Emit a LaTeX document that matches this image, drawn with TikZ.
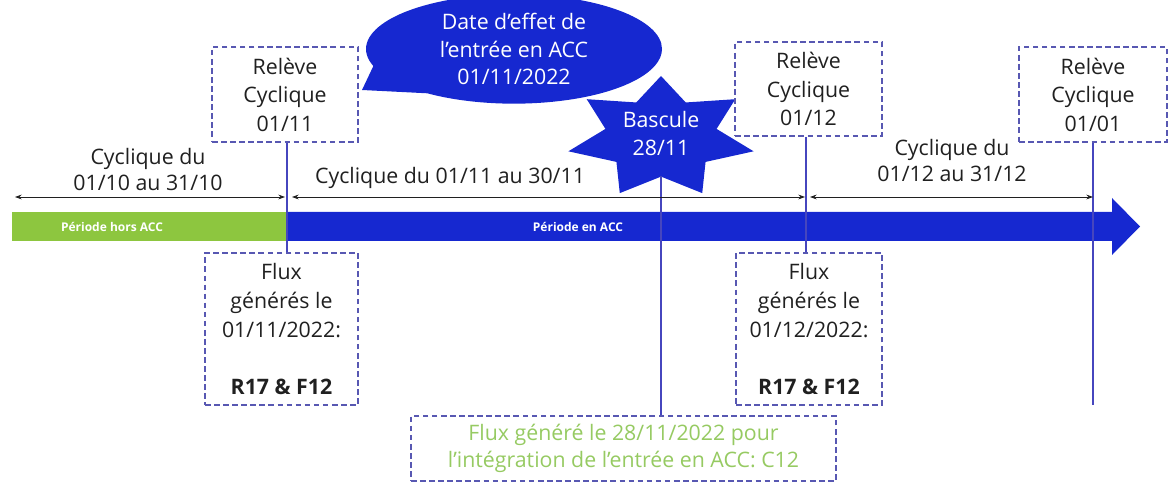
\documentclass[tikz,border=0pt]{standalone}
\usepackage{fontspec}
\setmainfont{Open Sans}
\usetikzlibrary{shapes.geometric,shapes.callouts,arrows.meta}
\definecolor{accblue}{RGB}{22,40,208}
\definecolor{accgreen}{RGB}{141,198,63}
\definecolor{lightgreen}{RGB}{150,202,98}
\definecolor{dashcol}{RGB}{88,88,178}
\definecolor{linecol}{RGB}{70,70,190}
\definecolor{txt}{RGB}{32,32,32}
\begin{document}
\begin{tikzpicture}[x=0.75pt,y=-0.75pt,
  mainfont/.style={font=\fontsize{16}{21.4}\selectfont},
  dbox/.style={draw=dashcol, line width=1.2pt, dash pattern=on 4.2pt off 2.6pt,
    inner sep=0pt, align=center, mainfont, text=txt},
  cyc/.style={align=center, font=\fontsize{16}{19.5}\selectfont, text=txt, inner sep=0pt},
  barlabel/.style={text=white, font=\fontsize{9}{10}\selectfont\bfseries, inner sep=0pt},
  vline/.style={draw=linecol, line width=1.1pt},
  cycarrow/.style={draw=txt, line width=0.6pt, {Stealth[length=5pt,width=3.6pt]}-{Stealth[length=5pt,width=3.6pt]}}
]
\useasboundingbox (0,0) rectangle (1168,495);

% bars
\fill[accgreen] (12,212) rectangle (287,241);
\fill[accblue] (287,212) -- (1112,212) -- (1112,198) -- (1140,226.5) -- (1112,255) -- (1112,241) -- (287,241) -- cycle;
\node[barlabel] (hors) at (112,226.5) {Période hors ACC};
\node[barlabel] (enacc) at (578,226.5) {Période en ACC};
\coordinate (split) at (287,226.5);

% callout ellipse
\node[ellipse callout, fill=accblue, text=white, minimum width=222pt, minimum height=82pt,
  callout absolute pointer={(362,90)}, callout pointer arc=36, align=center,
  font=\fontsize{16}{20.6}\selectfont, inner sep=0pt] (effet) at (514,49)
  {Date d’effet de\\l’entrée en ACC\\01/11/2022};

% star
\fill[accblue] (661,76) \foreach \i in {1,...,13}{
  -- ({661 + (mod(\i,2)==0 ? 95 : 57)*cos(90+\i*360/14)}, {137.6 - (mod(\i,2)==0 ? 61.6 : 39)*sin(90+\i*360/14)}) } -- cycle;
\coordinate (starbot) at (661,176);
\node[text=white, align=center, font=\fontsize{16}{21}\selectfont, inner sep=0pt] (bascule) at (661,134) {Bascule\\28/11};

% boxes
\node[dbox, minimum width=109.5pt, minimum height=71.25pt] (rel1) at (285,94.5) {Relève\\Cyclique\\01/11};
\node[dbox, minimum width=110.25pt, minimum height=70.5pt] (rel2) at (808.5,89) {Relève\\Cyclique\\01/12};
\node[dbox, minimum width=111pt, minimum height=71.25pt] (rel3) at (1093,94.5) {Relève\\Cyclique\\01/01};
\node[dbox, minimum width=114.75pt, minimum height=114pt] (flux1) at (281.5,329) {Flux\\générés le\\01/11/2022:\\[21.4pt]\textbf{R17 \& F12}};
\node[dbox, minimum width=109.5pt, minimum height=114pt] (flux2) at (809,329) {Flux\\générés le\\01/12/2022:\\[21.4pt]\textbf{R17 \& F12}};
\node[dbox, text=lightgreen, minimum width=318.75pt, minimum height=48.75pt, font=\fontsize{16}{20.3}\selectfont] (c12) at (623.5,448.5) {Flux généré le 28/11/2022 pour\\l’intégration de l’entrée en ACC: C12};
\coordinate (end3) at (1093,405);

% vertical connectors
\draw[vline] (rel1.south -| split) -- (flux1.north -| split);
\draw[vline] (rel2.south -| 806,0) -- (flux2.north -| 806,0);
\draw[vline] (rel3.south) -- (end3);
\draw[vline] (starbot) -- (c12.north -| starbot);

% cycle labels and arrows
\coordinate (a1) at (15,197);
\coordinate (a2) at (285,197);
\coordinate (b1) at (292,197);
\coordinate (b2) at (805,197);
\coordinate (d1) at (810,197);
\coordinate (d2) at (1093,197);
\draw[cycarrow] (a1) -- (a2);
\draw[cycarrow] (b1) -- (b2);
\draw[cycarrow] (d1) -- (d2);
\node[cyc] (cyc1) at (148,170) {Cyclique du\\01/10 au 31/10};
\node[cyc] (cyc2) at (450,178) {Cyclique du 01/11 au 30/11};
\node[cyc] (cyc3) at (952,161) {Cyclique du\\01/12 au 31/12};
\end{tikzpicture}
\end{document}
